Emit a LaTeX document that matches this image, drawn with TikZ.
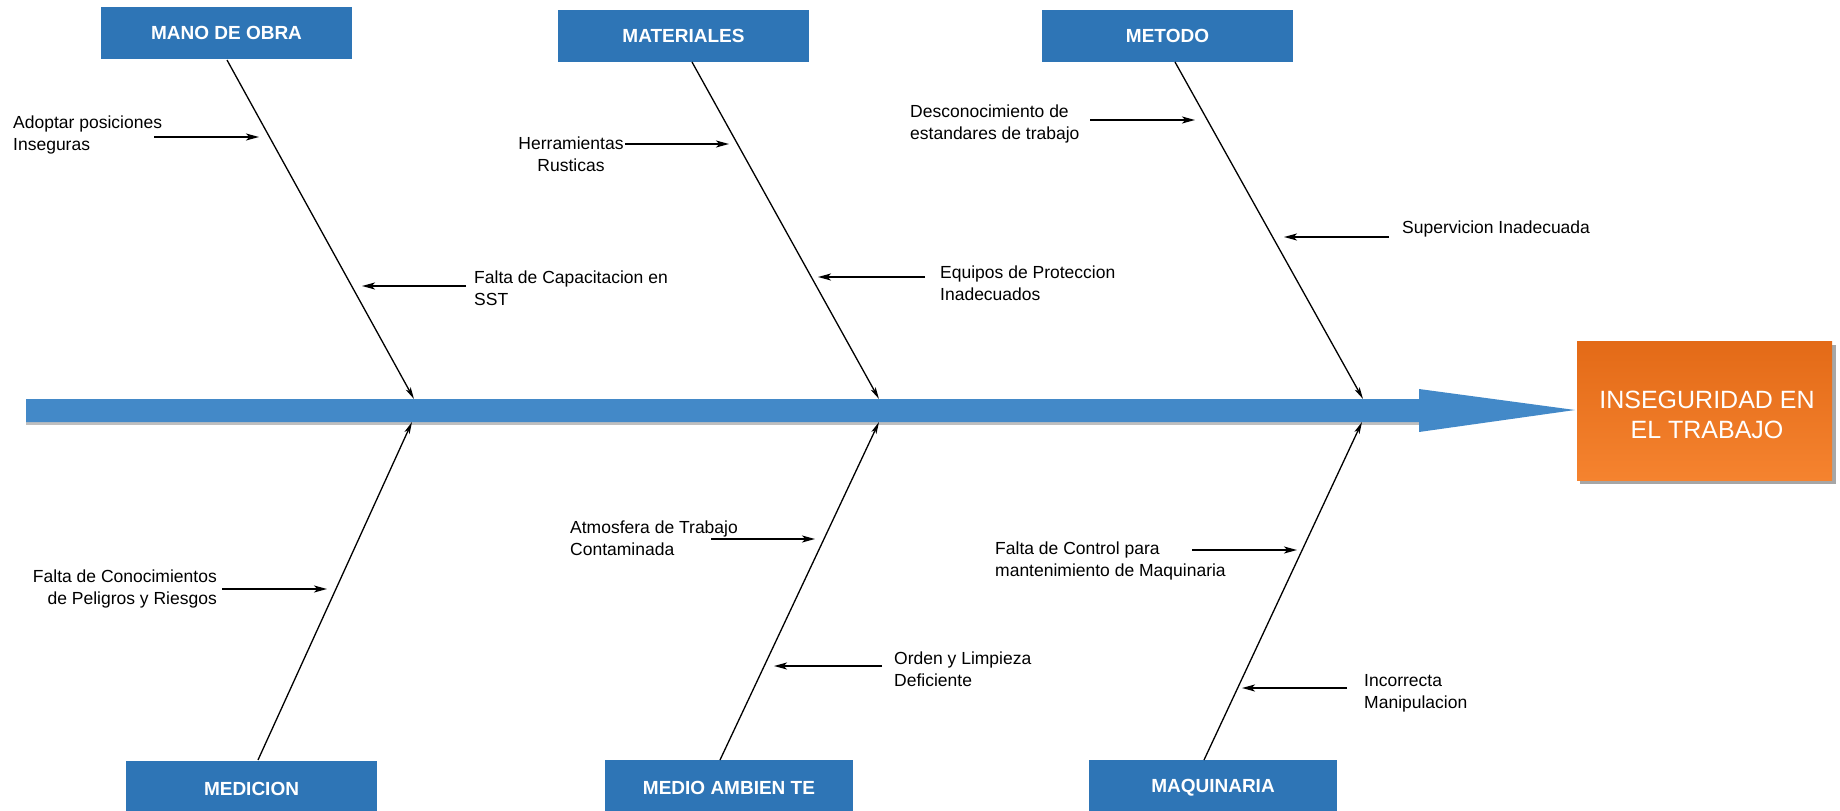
\documentclass[tikz,border=0pt]{standalone}
\usepackage{fontspec}
\setmainfont{Liberation Sans}
\usetikzlibrary{arrows.meta}
\definecolor{boxblue}{HTML}{2E75B6}
\definecolor{barblue}{HTML}{4389C8}
\definecolor{orTop}{HTML}{E36A17}
\definecolor{orBot}{HTML}{F5832F}
\begin{document}
\begin{tikzpicture}[x=1pt,y=-1pt,
  catbox/.style={fill=boxblue, draw=none, text=white, font=\fontsize{19}{22}\selectfont\bfseries, inner sep=0pt, minimum height=52pt},
  cause/.style={font=\fontsize{17.5}{22}\selectfont, inner sep=0pt, text=black},
  bone/.style={line width=1.3pt, -{Stealth[length=12pt,width=5.5pt,inset=3pt]}},
  sub/.style={line width=1.8pt, -{Stealth[length=13pt,width=7pt,inset=3.5pt]}},
]
\useasboundingbox (0,0) rectangle (1840,811);
\fill[white] (0,0) rectangle (1840,811);

% spine
\fill[black!25] (26,422) rectangle (1419,425);
\fill[barblue] (26,399) -- (1419,399) -- (1419,389) -- (1575,410) -- (1419,432) -- (1419,422) -- (26,422) -- cycle;

% result box
\fill[black!35] (1580,345) rectangle (1836,484);
\shade[top color=orTop, bottom color=orBot] (1577,341) rectangle (1832,480);
\node[inner sep=0pt, minimum width=255pt, minimum height=139pt] (res) at (1704.5,410.5) {};
\node[font=\fontsize{25}{30}\selectfont, text=white, align=center, inner sep=0pt, anchor=base] (restext) at (1707,438) {INSEGURIDAD EN\\EL TRABAJO};

% category boxes
\node[catbox, minimum width=251pt] (mano) at (226.5,33) {MANO DE OBRA};
\node[catbox, minimum width=251pt] (mat) at (683.5,36) {MATERIALES};
\node[catbox, minimum width=251pt] (met) at (1167.5,36) {METODO};
\node[catbox, minimum width=251pt, minimum height=56pt] (med) at (251.5,789) {MEDICION};
\node[catbox, minimum width=248pt, minimum height=56pt] (amb) at (729,788) {MEDIO AMBIEN TE};
\node[catbox, minimum width=248pt, minimum height=56pt] (maq) at (1213,788) {MAQUINARIA};

% spine coordinates
\coordinate (s1t) at (414,399);
\coordinate (s2t) at (879,399);
\coordinate (s3t) at (1363,399);
\coordinate (s1b) at (412,422);
\coordinate (s2b) at (879,422);
\coordinate (s3b) at (1362,422);
\coordinate (mano0) at (227,60);
\coordinate (mat0) at (692,62);
\coordinate (met0) at (1175,62);
\coordinate (med0) at (258,760);
\coordinate (amb0) at (720,760);
\coordinate (maq0) at (1204,760);

% main bones
\draw[bone] (mano0) -- (s1t);
\draw[bone] (mat0) -- (s2t);
\draw[bone] (met0) -- (s3t);
\draw[bone] (med0) -- (s1b);
\draw[bone] (amb0) -- (s2b);
\draw[bone] (maq0) -- (s3b);

% cause texts (base = baseline of last line)
\node[cause, anchor=base west, align=left] (c1) at (13,150) {Adoptar posiciones\\Inseguras};
\node[cause, anchor=base west, align=left] (c2) at (474,305) {Falta de Capacitacion en\\SST};
\node[cause, anchor=base, align=center] (c3) at (571,171) {Herramientas\\Rusticas};
\node[cause, anchor=base west, align=left] (c4) at (940,300) {Equipos de Proteccion\\Inadecuados};
\node[cause, anchor=base west, align=left] (c5) at (910,139) {Desconocimiento de\\estandares de trabajo};
\node[cause, anchor=base west, align=left] (c6) at (1402,233) {Supervicion Inadecuada};
\node[cause, anchor=base east, align=right] (c7) at (217,604) {Falta de Conocimientos\\de Peligros y Riesgos};
\node[cause, anchor=base west, align=left] (c8) at (570,555) {Atmosfera de Trabajo\\Contaminada};
\node[cause, anchor=base west, align=left] (c9) at (894,686) {Orden y Limpieza\\Deficiente};
\node[cause, anchor=base west, align=left] (c10) at (995,576) {Falta de Control para\\mantenimiento de Maquinaria};
\node[cause, anchor=base west, align=left] (c11) at (1364,708) {Incorrecta\\Manipulacion};

% sub arrows
\coordinate (a1s) at (154,137);  \coordinate (a1e) at (259,137);
\coordinate (a2s) at (466,286);  \coordinate (a2e) at (362,286);
\coordinate (a3s) at (625,144);  \coordinate (a3e) at (729,144);
\coordinate (a4s) at (925,277);  \coordinate (a4e) at (818,277);
\coordinate (a5s) at (1090,120); \coordinate (a5e) at (1195,120);
\coordinate (a6s) at (1389,237); \coordinate (a6e) at (1284,237);
\coordinate (a7s) at (222,589);  \coordinate (a7e) at (327,589);
\coordinate (a8s) at (711,539);  \coordinate (a8e) at (815,539);
\coordinate (a9s) at (882,666);  \coordinate (a9e) at (774,666);
\coordinate (a10s) at (1192,550); \coordinate (a10e) at (1297,550);
\coordinate (a11s) at (1347,688); \coordinate (a11e) at (1242,688);
\foreach \i in {1,...,11} {\draw[sub] (a\i s) -- (a\i e);}
\end{tikzpicture}
\end{document}
